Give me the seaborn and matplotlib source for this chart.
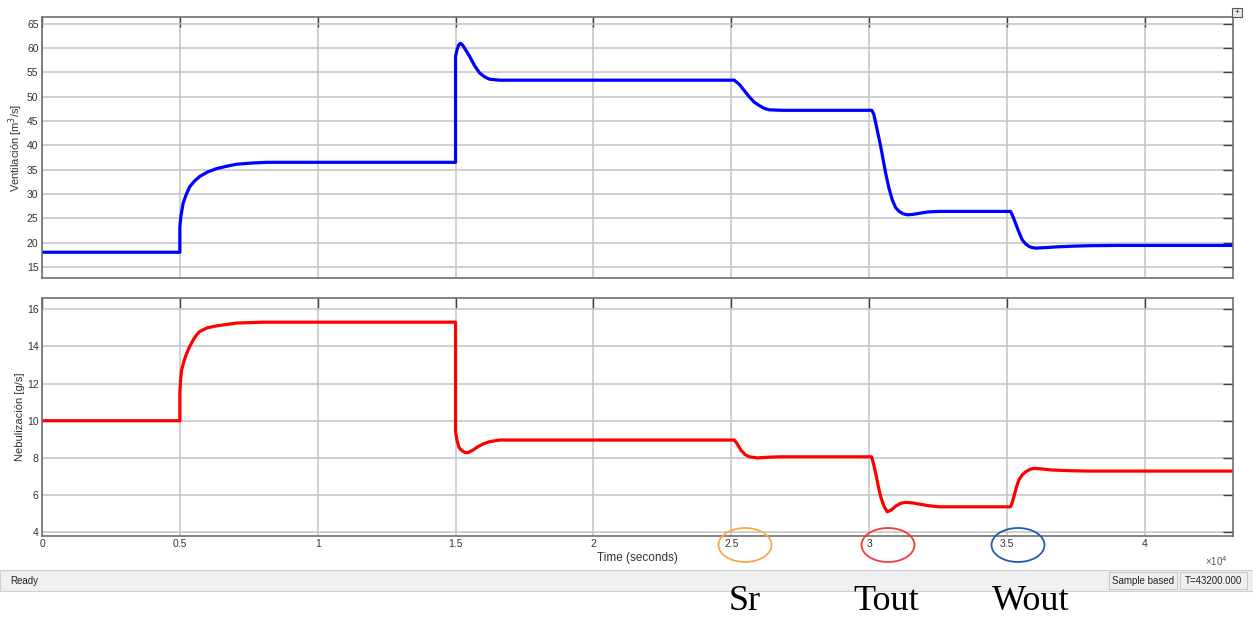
import numpy as np
import pandas as pd
import matplotlib.pyplot as plt
import seaborn as sns
from matplotlib.patches import Ellipse, Rectangle

# ------------------------------------------------------------
# Data (time in seconds)
# ------------------------------------------------------------
vent_t = [0, 5000, 5000, 5040, 5120, 5240, 5360, 5540, 5725, 6000, 6330,
          6700, 7050, 7600, 8140, 15000,
          15000, 15060, 15120, 15180, 15260, 15360, 15510, 15690, 15870,
          16050, 16230, 16600, 25110,
          25300, 25480, 25650, 25830, 26010, 26200, 26380, 26850, 30100,
          30170, 30240, 30420, 30600, 30720, 30840, 30960, 31090, 31240,
          31390, 31600, 31810, 32150, 32540, 35130,
          35200, 35310, 35430, 35550, 35680, 35800, 35920, 36040, 36400,
          36800, 37400, 38000, 39000, 43200]
vent_v = [18.0, 18.0, 23.2, 25.5, 28.1, 30.0, 31.5, 32.7, 33.6, 34.5, 35.2,
          35.7, 36.1, 36.35, 36.5, 36.5,
          58.3, 59.8, 60.7, 61.0, 60.6, 59.7, 58.3, 56.4, 54.9,
          54.1, 53.6, 53.4, 53.4,
          52.5, 51.2, 50.0, 48.9, 48.2, 47.6, 47.3, 47.2, 47.2,
          46.4, 44.6, 39.8, 34.3, 31.2, 28.8, 27.2, 26.4, 25.9,
          25.7, 25.8, 26.0, 26.3, 26.4, 26.4,
          25.6, 24.0, 22.2, 20.6, 19.7, 19.2, 18.95, 18.85, 18.95,
          19.1, 19.25, 19.35, 19.4, 19.4]

neb_t = [0, 5000, 5000, 5030, 5060, 5150, 5240, 5360, 5480, 5600, 5720,
         6000, 6330, 7050, 8000, 15000,
         15000, 15060, 15130, 15210, 15330, 15450, 15630, 15810, 16000,
         16230, 16600, 25110,
         25200, 25350, 25500, 25650, 25950, 26400, 26800, 30090,
         30160, 30240, 30330, 30420, 30540, 30660, 30800, 30970, 31150,
         31330, 31570, 31810, 32150, 32540, 35130,
         35180, 35250, 35340, 35430, 35550, 35680, 35830, 35980, 36300,
         36630, 37300, 38000, 43200]
neb_v = [10.0, 10.0, 11.5, 12.2, 12.7, 13.2, 13.6, 14.0, 14.33, 14.6, 14.8,
         15.0, 15.1, 15.25, 15.3, 15.3,
         9.4, 8.9, 8.55, 8.42, 8.3, 8.28, 8.42, 8.6, 8.75,
         8.87, 8.96, 8.96,
         8.8, 8.42, 8.18, 8.06, 8.0, 8.04, 8.06, 8.06,
         7.7, 7.17, 6.5, 5.91, 5.4, 5.1, 5.2, 5.41, 5.56,
         5.61, 5.58, 5.52, 5.43, 5.37, 5.37,
         5.55, 5.91, 6.4, 6.8, 7.08, 7.25, 7.38, 7.44, 7.4,
         7.35, 7.31, 7.29, 7.29]

x_ticks = [0, 5000, 10000, 15000, 20000, 25000, 30000, 35000, 40000]
x_ticklabels = ["0", "0.5", "1", "1.5", "2", "2.5", "3", "3.5", "4"]
vent_yticks = [15, 20, 25, 30, 35, 40, 45, 50, 55, 60, 65]
neb_yticks = [4, 6, 8, 10, 12, 14, 16]

markers = ["Sr", "Tout", "Wout"]
marker_colors = ["#F5A94A", "#EE3B3B", "#1F5BB5"]
circle_x_px = [745, 888, 1018]
label_x_px = [729, 853, 992]

vent = pd.DataFrame({"t": vent_t, "v": vent_v})
neb = pd.DataFrame({"t": neb_t, "v": neb_v})

# ------------------------------------------------------------
# Figure
# ------------------------------------------------------------
sns.set_style("white")
plt.rcParams["font.family"] = ["Liberation Sans", "DejaVu Sans"]

W, H = 1253, 619
fig = plt.figure(figsize=(W / 100, H / 100), dpi=100)
fig.patch.set_facecolor("white")

ax1 = fig.add_axes([42 / W, 1 - 278 / H, (1233 - 42) / W, (278 - 17) / H])
ax2 = fig.add_axes([42 / W, 1 - 536 / H, (1233 - 42) / W, (536 - 298) / H])

sns.lineplot(data=vent, x="t", y="v", ax=ax1, color="#0000FF", lw=2.3,
             estimator=None, sort=False, solid_joinstyle="round")
sns.lineplot(data=neb, x="t", y="v", ax=ax2, color="#FF0000", lw=2.3,
             estimator=None, sort=False, solid_joinstyle="round")

for ax, yt in [(ax1, vent_yticks), (ax2, neb_yticks)]:
    ax.set_xlim(0, 43200)
    ax.set_xticks(x_ticks)
    ax.set_yticks(yt)
    ax.grid(True, color="#C4C4C4", lw=1.1)
    ax.tick_params(direction="in", top=True, right=True, length=7,
                   width=1, color="#404040", labelsize=7.5,
                   labelcolor="#333333", pad=2.5)
    for s in ax.spines.values():
        s.set_color("#6E6E6E")
        s.set_linewidth(1.2)
    ax.set_xlabel("")

ax1.set_ylim(12.7, 66.4)
ax2.set_ylim(3.8, 16.6)
ax1.set_xticklabels([])
ax2.set_xticklabels(x_ticklabels)
ax1.set_ylabel("Ventilación [m$^3$/s]", fontsize=8, color="#333333")
ax2.set_ylabel("Nebulización [g/s]", fontsize=8, color="#333333")
ax1.yaxis.set_label_coords(-17 / 1191, 0.5)
ax2.yaxis.set_label_coords(-17 / 1191, 0.5)
ax2.set_xlabel("Time (seconds)", fontsize=8.5, color="#333333", labelpad=2)
fig.text(1228 / W, 1 - 561 / H, "×10$^4$", fontsize=7, color="#555555",
         ha="right", va="center")

# small scope icon top-right
fig.add_artist(Rectangle((1232 / W, 1 - 17 / H), 10 / W, 9 / H,
                         transform=fig.transFigure, fc="#E8E8E8",
                         ec="#555555", lw=0.8))
fig.text(1237 / W, 1 - 12.5 / H, "+", fontsize=6, ha="center", va="center")

# status bar
fig.add_artist(Rectangle((0, 1 - 591 / H), 1, 21 / H, transform=fig.transFigure,
                         fc="#F0F0F0", ec="#D0D0D0", lw=0.8))
fig.text(10 / W, 1 - 581 / H, "Ready", fontsize=7, color="#222222", va="center")
fig.add_artist(Rectangle((1109 / W, 1 - 589 / H), 68 / W, 17 / H,
                         transform=fig.transFigure, fc="#F0F0F0",
                         ec="#C8C8C8", lw=0.8))
fig.add_artist(Rectangle((1180 / W, 1 - 589 / H), 67 / W, 17 / H,
                         transform=fig.transFigure, fc="#F0F0F0",
                         ec="#C8C8C8", lw=0.8))
fig.text(1143 / W, 1 - 581 / H, "Sample based", fontsize=7, color="#222222",
         ha="center", va="center")
fig.text(1213 / W, 1 - 581 / H, "T=43200.000", fontsize=7, color="#222222",
         ha="center", va="center")

# hand-drawn circles and labels
for name, col, cx, lx in zip(markers, marker_colors, circle_x_px, label_x_px):
    fig.add_artist(Ellipse((cx / W, 1 - 545 / H), 53 / W, 34 / H,
                           transform=fig.transFigure, fill=False,
                           ec=col, lw=1.3))
    fig.text(lx / W, 1 - 601 / H, name, fontsize=26, ha="left",
             va="center", family=["Liberation Serif", "DejaVu Serif"],
             color="black")

plt.savefig("out.png", dpi=100)
